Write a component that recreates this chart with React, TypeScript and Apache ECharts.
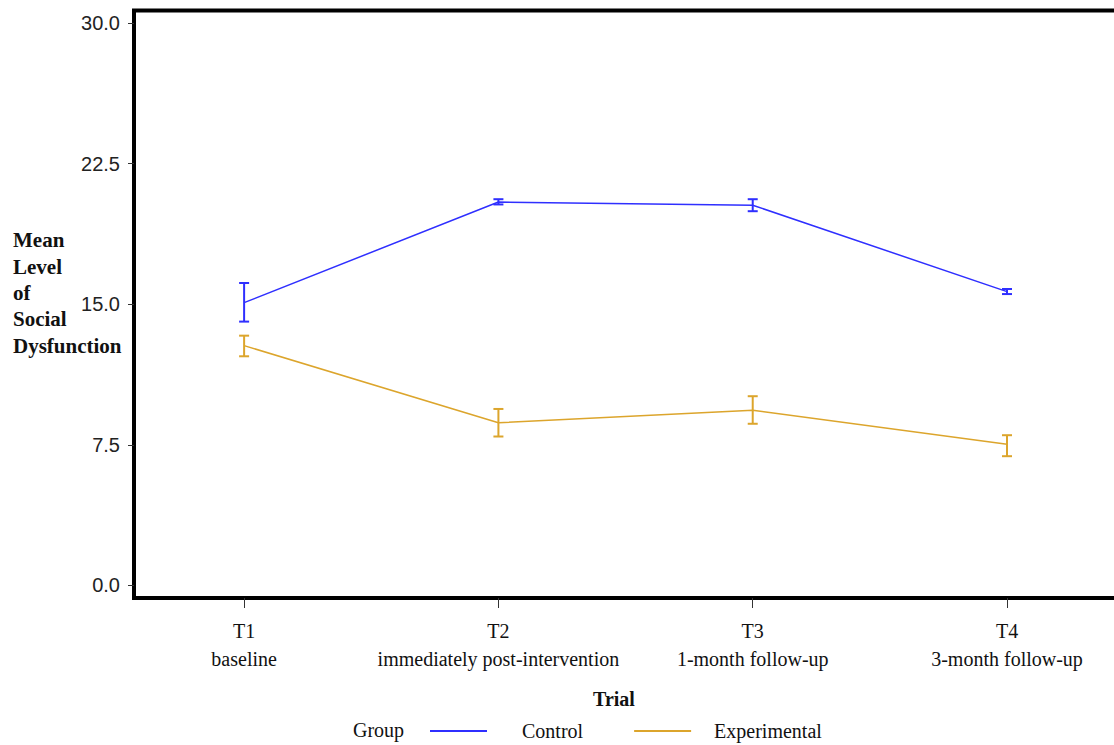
import React, { useEffect, useRef } from "react";
import * as echarts from "echarts";

const trials = ["T1", "T2", "T3", "T4"];
const trialNotes = ["baseline", "immediately post-intervention", "1-month follow-up", "3-month follow-up"];
const trialPos = [1, 2, 3, 4];
const yTicks = [0, 7.5, 15, 22.5, 30];

const controlMean = [15.08, 20.45, 20.28, 15.67];
const controlLow = [14.07, 20.32, 19.96, 15.54];
const controlHigh = [16.13, 20.6, 20.6, 15.81];

const expMean = [12.79, 8.67, 9.34, 7.53];
const expLow = [12.22, 7.94, 8.62, 6.89];
const expHigh = [13.32, 9.41, 10.09, 8.01];

const BLUE = "#2f2fff";
const GOLD = "#dca52c";

function errorSeries(name: string, low: number[], high: number[], color: string) {
  return {
    type: "custom",
    name: name + "-err",
    silent: true,
    data: trialPos.map((x, i) => [x, low[i], high[i]]),
    encode: { x: 0, y: [1, 2] },
    renderItem: (params: any, api: any) => {
      const x = api.value(0);
      const p1 = api.coord([x, api.value(1)]);
      const p2 = api.coord([x, api.value(2)]);
      const w = 5;
      const style = { stroke: color, lineWidth: 2 };
      return {
        type: "group",
        children: [
          { type: "line", shape: { x1: p1[0], y1: p1[1], x2: p2[0], y2: p2[1] }, style },
          { type: "line", shape: { x1: p1[0] - w, y1: p1[1], x2: p1[0] + w, y2: p1[1] }, style },
          { type: "line", shape: { x1: p2[0] - w, y1: p2[1], x2: p2[0] + w, y2: p2[1] }, style },
        ],
      };
    },
    z: 3,
  };
}

export default function App() {
  const ref = useRef<HTMLDivElement>(null);
  useEffect(() => {
    if (!ref.current) return;
    const chart = echarts.init(ref.current, undefined, { renderer: "svg" });
    const serif = '"Liberation Serif", "Times New Roman", serif';
    const sans = '"Liberation Sans", Arial, sans-serif';
    chart.setOption({
      animation: false,
      backgroundColor: "#ffffff",
      grid: {
        left: 134,
        top: 10.5,
        bottom: 147,
        right: 0,
        show: true,
        borderColor: "#000",
        borderWidth: 4,
        containLabel: false,
      },
      xAxis: {
        type: "value",
        min: 0.567,
        max: 4.46,
        axisLine: { show: false, onZero: false },
        splitLine: { show: false },
        axisTick: { show: true, customValues: trialPos, length: 10, lineStyle: { color: "#333", width: 1 } },
        axisLabel: {
          customValues: trialPos,
          margin: 19,
          fontFamily: serif,
          fontSize: 20,
          lineHeight: 28,
          color: "#111",
          formatter: (v: number) => {
            const i = Math.round(v) - 1;
            return trials[i] + "\n" + trialNotes[i];
          },
        },
      },
      yAxis: {
        type: "value",
        min: -0.675,
        max: 30.667,
        axisLine: { show: false, onZero: false },
        splitLine: { show: false },
        axisTick: { show: true, customValues: yTicks, length: 6, lineStyle: { color: "#333", width: 1 } },
        axisLabel: {
          customValues: yTicks,
          margin: 14,
          fontFamily: sans,
          fontSize: 20,
          color: "#222",
          formatter: (v: number) => v.toFixed(1),
        },
      },
      legend: {
        left: 430,
        top: 721,
        padding: 0,
        icon: "rect",
        itemWidth: 57,
        itemHeight: 2,
        itemGap: 51,
        data: [
          { name: "Control", textStyle: { padding: [0, 0, 0, 30] } },
          { name: "Experimental", textStyle: { padding: [0, 0, 0, 18] } },
        ],
        textStyle: { fontFamily: serif, fontSize: 20, color: "#111" },
        selectedMode: false,
      },
      graphic: [
        {
          type: "text",
          left: 13,
          top: 227,
          style: {
            text: "Mean\nLevel\nof\nSocial\nDysfunction",
            font: 'bold 21px "Liberation Serif", serif',
            lineHeight: 26.4,
            fill: "#111",
          },
        },
        {
          type: "text",
          x: 614,
          y: 699,
          style: {
            text: "Trial",
            font: 'bold 20px "Liberation Serif", serif',
            fill: "#111",
            align: "center",
            verticalAlign: "middle",
          },
        },
        {
          type: "text",
          x: 353,
          y: 730,
          style: {
            text: "Group",
            font: '20px "Liberation Serif", serif',
            fill: "#111",
            align: "left",
            verticalAlign: "middle",
          },
        },
      ],
      series: [
        {
          type: "line",
          name: "Control",
          data: trialPos.map((x, i) => [x, controlMean[i]]),
          showSymbol: false,
          symbol: "none",
          lineStyle: { color: BLUE, width: 1.5 },
          itemStyle: { color: BLUE },
          z: 2,
        },
        {
          type: "line",
          name: "Experimental",
          data: trialPos.map((x, i) => [x, expMean[i]]),
          showSymbol: false,
          symbol: "none",
          lineStyle: { color: GOLD, width: 1.5 },
          itemStyle: { color: GOLD },
          z: 2,
        },
        errorSeries("Control", controlLow, controlHigh, BLUE),
        errorSeries("Experimental", expLow, expHigh, GOLD),
      ],
    });
    return () => chart.dispose();
  }, []);
  return (
    <div
      style={{ position: "absolute", left: 0, top: 0, width: 1114, height: 745, overflow: "hidden", background: "#fff" }}
    >
      <div ref={ref} style={{ width: 1124, height: 745 }} />
    </div>
  );
}
